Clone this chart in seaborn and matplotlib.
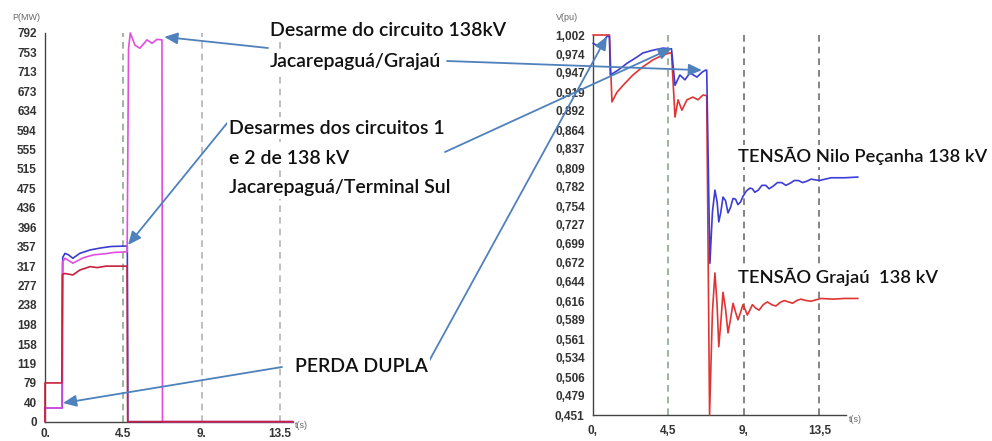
import numpy as np
import matplotlib
matplotlib.use("Agg")
import matplotlib.pyplot as plt
import seaborn as sns

# ---- values ----
# left panel: power P (MW) against time t (s)
t_p_blue = [0, 0.99, 1.02, 1.15, 1.35, 1.6, 2.0, 2.6, 3.2, 3.8, 4.73, 4.76, 14.25]
p_blue = [28, 28, 335, 343, 340, 333, 343, 350, 354, 357, 358, 0, 0]

t_p_mag = [0, 0, 0.97, 1.0, 1.15, 1.6, 2.2, 2.8, 3.4, 4.0, 4.72, 4.8, 4.9,
           5.17, 5.45, 5.86, 6.15, 6.43, 6.72, 6.75, 14.25]
p_mag = [0, 28, 28, 325, 333, 323, 334, 340, 342, 345, 346, 760, 792,
         767, 761, 778, 771, 779, 778, 0, 0]

t_p_red = [0, 0, 0.97, 1.0, 1.15, 1.6, 2.0, 2.6, 3.0, 3.5, 4.0, 4.72, 4.75, 14.25]
p_red = [0, 79, 79, 300, 302, 299, 309, 316, 314, 317, 317, 317, 0, 0]

# right panel: voltage V (pu) against time t (s)
t_v_nilo = [0, 0.15, 0.4, 0.83, 0.98, 1.03, 1.49, 2.03, 2.62, 2.98, 3.58, 4.17,
            4.59, 4.68, 4.89, 5.18, 5.48, 5.78, 6.20, 6.50, 6.70, 6.78,
            6.97, 7.12, 7.27, 7.4, 7.5, 7.62, 7.75, 7.9, 8.05, 8.2, 8.35, 8.5, 8.64,
            8.8, 8.94, 9.15, 9.36, 9.5, 9.65, 9.85, 10.07, 10.3, 10.5, 10.75, 11.0,
            11.25, 11.5, 11.75, 12.0, 12.25, 12.5, 12.75, 13.0, 13.5, 14.2, 15.0, 15.8]
v_nilo = [0.990, 0.988, 0.985, 1.000, 1.000, 0.944, 0.951, 0.961, 0.970, 0.976, 0.980, 0.983,
          0.982, 0.982, 0.929, 0.944, 0.937, 0.947, 0.941, 0.948, 0.951, 0.951,
          0.671, 0.745, 0.777, 0.760, 0.731, 0.745, 0.767, 0.762, 0.744, 0.752, 0.765, 0.764,
          0.756, 0.760, 0.768, 0.776, 0.780, 0.779, 0.774, 0.777, 0.784, 0.784, 0.779, 0.783,
          0.788, 0.788, 0.784, 0.787, 0.791, 0.791, 0.788, 0.790, 0.793, 0.791, 0.795, 0.795,
          0.796]

t_v_grajau = [0, 0.98, 1.13, 1.43, 1.79, 2.38, 2.98, 3.58, 4.17, 4.59, 4.68,
              4.89, 5.07, 5.30, 5.60, 5.96, 6.26, 6.56, 6.78,
              6.95, 7.12, 7.27, 7.4, 7.5, 7.62, 7.75, 7.9, 8.05, 8.2, 8.35, 8.5, 8.64,
              8.8, 8.94, 9.07, 9.2, 9.35, 9.5, 9.7, 9.9, 10.15, 10.4, 10.65, 10.9,
              11.15, 11.4, 11.65, 11.9, 12.15, 12.4, 12.7, 13.0, 13.6, 14.3, 15.0, 15.8]
v_grajau = [1.002, 1.002, 0.905, 0.919, 0.929, 0.944, 0.956, 0.966, 0.973, 0.976, 0.976,
            0.883, 0.908, 0.893, 0.908, 0.912, 0.908, 0.915, 0.914,
            0.451, 0.600, 0.657, 0.610, 0.550, 0.585, 0.629, 0.605, 0.570, 0.590, 0.613,
            0.600, 0.589, 0.600, 0.611, 0.604, 0.596, 0.603, 0.611, 0.606, 0.603, 0.611,
            0.615, 0.611, 0.609, 0.614, 0.617, 0.615, 0.613, 0.617, 0.619, 0.617, 0.616,
            0.620, 0.619, 0.620, 0.620]

# tick labels as printed on the original
p_ticklabels = ["0", "40", "79", "119", "158", "198", "238", "277", "317", "357", "396",
                "436", "475", "515", "555", "594", "634", "673", "713", "753", "792"]
v_ticklabels = ["0,451", "0,479", "0,506", "0,534", "0,561", "0,589", "0,616", "0,644",
                "0,672", "0,699", "0,727", "0,754", "0,782", "0,809", "0,837", "0,864",
                "0,892", "0,919", "0,947", "0,974", "1,002"]
t_ticks = [0, 4.5, 9, 13.5]
t_ticklabels_p = ["0.", "4.5", "9.", "13.5"]
t_ticklabels_v = ["0,", "4,5", "9,", "13,5"]

sns.set_style("white")
plt.rcParams["font.family"] = ["Liberation Sans", "DejaVu Sans"]

W, H = 992, 441


def fx(x):
    return x / W


def fy(y):
    return 1 - y / H


fig = plt.figure(figsize=(W / 100, H / 100), dpi=100)
axL = fig.add_axes([fx(45), fy(421.7), (293 - 45) / W, (421.7 - 33) / H])
axR = fig.add_axes([fx(593), fy(415), (858 - 593) / W, (415 - 35) / H])

# dashed event markers
for ax, col in [(axL, "#b4b4b4"), (axR, "#707070")]:
    ax.axvline(4.5, color="#8fa88f", ls=(0, (4, 3)), lw=1.2, zorder=1)
    ax.axvline(9, color=col, ls=(0, (4, 3)), lw=1.2, zorder=1)
    ax.axvline(13.5, color=col, ls=(0, (4, 3)), lw=1.2, zorder=1)

# curves
for t, v, c in [(t_p_blue, p_blue, "#3c3cd2"), (t_p_mag, p_mag, "#e24ee2"),
                (t_p_red, p_red, "#c8203c")]:
    sns.lineplot(x=t, y=v, ax=axL, color=c, lw=1.2, estimator=None, sort=False,
                 clip_on=False, zorder=3)
for t, v, c in [(t_v_grajau, v_grajau, "#e03434"), (t_v_nilo, v_nilo, "#3c3cd6")]:
    sns.lineplot(x=t, y=v, ax=axR, color=c, lw=1.2, estimator=None, sort=False,
                 clip_on=False, zorder=3)

axL.set_xlim(0, 14.25)
axL.set_ylim(0, 792)
axL.set_yticks([float(s) for s in p_ticklabels])
axL.set_yticklabels(p_ticklabels, fontweight="bold")
axL.set_xticks(t_ticks)
axL.set_xticklabels(t_ticklabels_p, fontweight="bold")

axR.set_xlim(0, 15.8)
axR.set_ylim(0.451, 1.002)
axR.set_yticks([float(s.replace(",", ".")) for s in v_ticklabels])
axR.set_yticklabels(v_ticklabels, fontweight="bold")
axR.set_xticks(t_ticks)
axR.set_xticklabels(t_ticklabels_v, fontweight="bold")
axR.spines["bottom"].set_bounds(0, 15.1)

for ax in (axL, axR):
    ax.set_xlabel("")
    ax.set_ylabel("")
    ax.set_facecolor("none")
    for s in ("top", "right"):
        ax.spines[s].set_visible(False)
    for s in ("left", "bottom"):
        ax.spines[s].set_color("#444444")
        ax.spines[s].set_linewidth(1.0)
    ax.tick_params(axis="both", direction="out", length=3, width=0.8, color="#444444",
                   labelsize=8.5, labelcolor="#333333", pad=3)
axL.tick_params(axis="x", pad=1.5)
axR.tick_params(axis="x", pad=4)

# small axis captions
small = dict(fontsize=6.5, color="#666666")
fig.text(fx(12), fy(17), "P(MW)", va="center", ha="left", **small)
fig.text(fx(556), fy(17), "V(pu)", va="center", ha="left", **small)
fig.text(fx(295), fy(426), "t(s)", va="center", ha="left", **small)
fig.text(fx(849), fy(420), "t(s)", va="center", ha="left", **small)

# callout texts
note = dict(fontsize=14, family=["Lato", "DejaVu Sans"], fontweight="semibold",
            color="#111111", ha="left", va="center", zorder=5,
            bbox=dict(facecolor="white", edgecolor="none", pad=1.5))
fig.text(fx(270), fy(30), "Desarme do circuito 138kV", **note)
fig.text(fx(270), fy(62), "Jacarepaguá/Grajaú", **note)
fig.text(fx(229), fy(128), "Desarmes dos circuitos 1", **note)
fig.text(fx(229), fy(158), "e 2 de 138 kV", **note)
fig.text(fx(229), fy(188), "Jacarepaguá/Terminal Sul", **note)
fig.text(fx(295), fy(366), "PERDA DUPLA", **note)
note["fontsize"] = 13.2
fig.text(fx(738), fy(156), "TENSÃO Nilo Peçanha 138 kV", **note)
fig.text(fx(738), fy(277), "TENSÃO Grajaú  138 kV", **note)

# callout arrows: tail in figure pixels, head on the curve
arrow = dict(arrowstyle="-|>,head_length=0.8,head_width=0.35", color="#4f81bd", lw=1.3,
             shrinkA=0, shrinkB=0)
callouts = [
    (axL, (6.85, 784), (268, 48)),
    (axR, (6.5, 0.951), (447, 61)),
    (axL, (4.77, 360), (228, 122)),
    (axR, (4.7, 0.983), (445, 152)),
    (axL, (1.03, 38), (282, 367)),
    (axR, (0.83, 1.0), (428, 363)),
]
for ax, head, tail in callouts:
    ax.annotate("", xy=head, xycoords="data", xytext=(tail[0], H - tail[1]),
                textcoords="figure pixels", arrowprops=arrow, annotation_clip=False,
                zorder=4)

fig.savefig("out.png", dpi=100, facecolor="white")
